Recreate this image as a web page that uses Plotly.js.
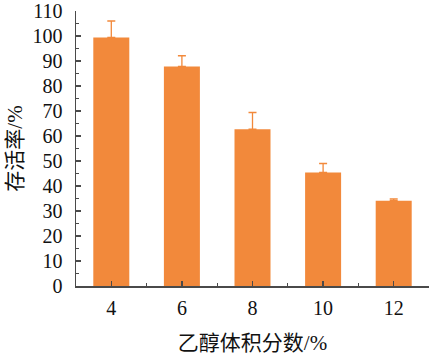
<!DOCTYPE html>
<html><head><meta charset="utf-8">
<script src="https://cdn.plot.ly/plotly-3.0.1.min.js"></script>
<style>body{margin:0;background:#fff}#c{width:430px;height:359px}</style>
</head><body><div id="c"></div>
<script>
const categories = ['4','6','8','10','12'];
const ethanol = [4, 6, 8, 10, 12];
const survival = [99.4, 87.8, 62.7, 45.4, 34.1];
const errPlus = [6.6, 4.3, 6.7, 3.6, 0.7];

const serif = '"Liberation Serif", "Times New Roman", serif';
const cjk = '"Liberation Serif", "Noto Sans CJK SC", serif';
const axisColor = '#4a4a4a';

Plotly.newPlot('c', [{
  type: 'bar',
  x: ethanol,
  y: survival,
  marker: {color: '#F2893B', line: {width: 0}},
  error_y: {type: 'data', array: errPlus, symmetric: false, arrayminus: errPlus.map(() => 0),
            color: '#F2893B', thickness: 1.3, width: 4}
}], {
  width: 430, height: 359,
  margin: {l: 76, r: 1, t: 11, b: 73},
  paper_bgcolor: '#fff', plot_bgcolor: '#fff',
  bargap: 0.49,
  showlegend: false,
  xaxis: {
    range: [3, 13], tickvals: ethanol, ticktext: categories,
    showgrid: false, zeroline: false,
    showline: true, linecolor: axisColor, linewidth: 1.5,
    ticks: 'inside', ticklen: 5, tickwidth: 1.3, tickcolor: axisColor,
    minor: {ticks: 'inside', tick0: 3, dtick: 2, ticklen: 3, tickcolor: axisColor, tickwidth: 1.3},
    tickfont: {family: serif, size: 20, color: '#111'},
    ticklabelstandoff: 3,
    title: {text: '乙醇体积分数/%', font: {family: cjk, size: 21, color: '#111'}, standoff: 18}
  },
  yaxis: {
    range: [0, 110], dtick: 10,
    showgrid: false, zeroline: false,
    showline: true, linecolor: axisColor, linewidth: 1.5,
    ticks: 'inside', ticklen: 5, tickwidth: 1.3, tickcolor: axisColor,
    minor: {ticks: 'inside', dtick: 5, ticklen: 3, tickcolor: axisColor, tickwidth: 1.3},
    tickfont: {family: serif, size: 20, color: '#111'},
    ticklabelstandoff: 8,
    title: {text: '存活率/%', font: {family: cjk, size: 21, color: '#111'}, standoff: 4}
  }
}, {staticPlot: true, displayModeBar: false});
</script></body></html>
